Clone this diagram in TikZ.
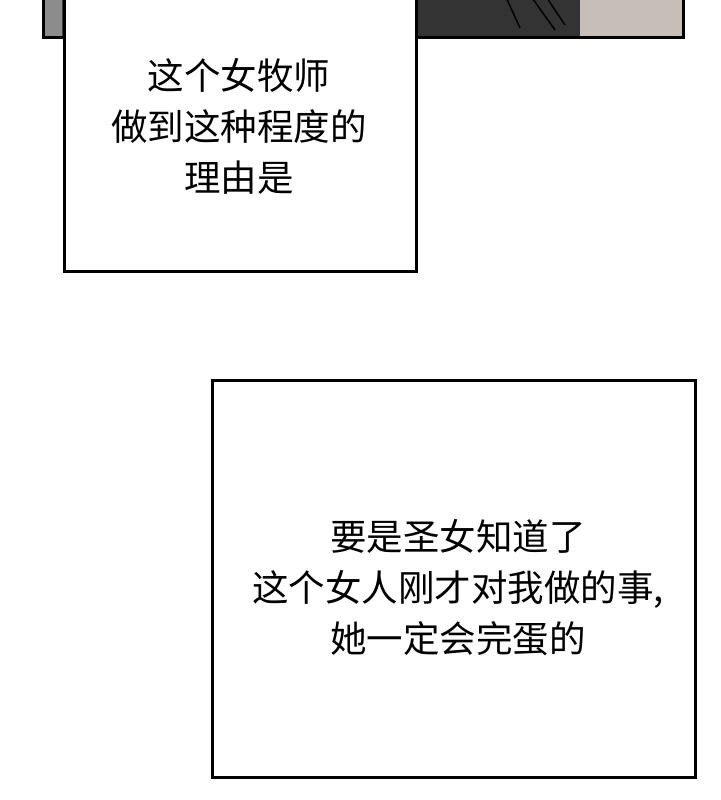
\documentclass[tikz,border=0pt]{standalone}
\usepackage{fontspec}
\newfontfamily\cjk{Noto Sans CJK SC}
\begin{document}
\begin{tikzpicture}[x=1pt,y=-1pt,
  capbox/.style={draw=black,line width=3pt,fill=white},
  txt/.style={font=\cjk\fontsize{36.5}{51}\selectfont,align=center,text=black}]
\useasboundingbox (0,0) rectangle (720,800);
\fill[white] (0,0) rectangle (720,800);
% top panel
\fill[black!75] (43,-5) rectangle (683,38);
\fill[black!45] (43,-5) rectangle (62,38);
\fill[black!80] (415,-5) rectangle (580,38);
\fill[brown!25!gray!50] (580,-5) rectangle (683,38);
\draw[line width=1.5pt] (530,-5) -- (555,30) (545,-5) -- (565,25) (505,-5) -- (520,28);
\draw[line width=3pt] (43,-5) -- (43,38) -- (683,38) -- (683,-5);
% captions
\node[capbox,minimum width=352,minimum height=280,anchor=north west] (b1) at (63,-10) {};
\node[txt] (t1) at (239,126) {这个女牧师\\做到这种程度的\\理由是};
\node[capbox,minimum width=483,minimum height=397,anchor=north west] (b2) at (211,379) {};
\node[txt] (t2) at (458,588) {要是圣女知道了\\这个女人刚才对我做的事,\\她一定会完蛋的};
\end{tikzpicture}
\end{document}
